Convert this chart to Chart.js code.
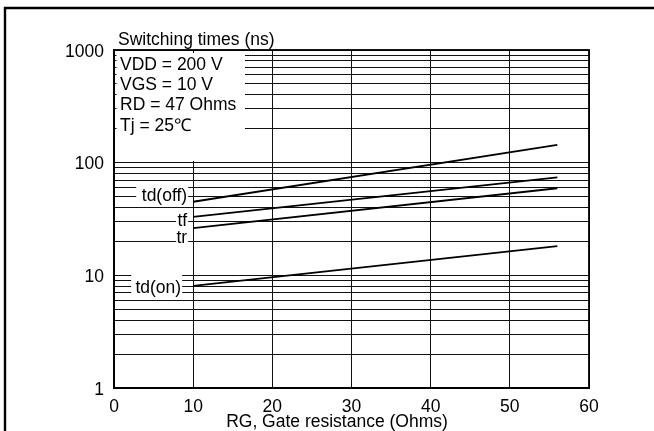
<!DOCTYPE html>
<html>
<head>
<meta charset="UTF-8">
<title>Switching times vs gate resistance</title>
<script src="https://cdn.jsdelivr.net/npm/chart.js@4.4.1/dist/chart.umd.min.js"></script>
<style>
    html, body { margin: 0; padding: 0; background: #fff; }
    #wrap { width: 654px; height: 431px; }
</style>
</head>
<body>
<div id="wrap"><canvas id="chart" width="654" height="431"></canvas></div>
<script>
    // values
    const rgOhms = [10, 56];
    const tdOff = [45, 144];
    const tFall = [33, 74];
    const tRise = [26.2, 59.3];
    const tdOn = [8.05, 18.2];

    const xTicks = [0, 10, 20, 30, 40, 50, 60];
    const yDecades = [1, 10, 100, 1000];
    const conditions = ['VDD = 200 V', 'VGS = 10 V', 'RD = 47 Ohms', 'Tj = 25\u2103'];
    const yTitle = 'Switching times (ns)';
    const xTitle = 'RG, Gate resistance (Ohms)';

    const FONT = '"Liberation Sans", Arial, sans-serif';
    const SIZE = 17.5;

    // every 1..9 step of each decade gets a grid line
    const yGrid = [];
    for (let k = 0; k < 3; k++) {
        for (let m = 1; m < 10; m++) yGrid.push(m * Math.pow(10, k));
    }
    yGrid.push(1000);

    function series(vals) {
        return rgOhms.map((x, i) => ({ x: x, y: vals[i] }));
    }

    function lineSet(name, vals) {
        return {
            label: name,
            data: series(vals),
            borderColor: '#000',
            borderWidth: 1.8,
            pointRadius: 0,
            fill: false,
            tension: 0
        };
    }

    function label(ctx, text, x, y, align, box) {
        ctx.fillStyle = '#fff';
        if (box) ctx.fillRect(box[0], box[1], box[2], box[3]);
        ctx.fillStyle = '#000';
        ctx.textAlign = align;
        ctx.textBaseline = 'middle';
        ctx.fillText(text, x, y);
    }

    const notes = {
        id: 'notes',
        beforeDatasetsDraw(chart) {
            const { ctx, chartArea: a, scales } = chart;
            const xs = scales.x, ys = scales.y;
            const x10 = xs.getPixelForValue(10);
            ctx.save();
            ctx.font = SIZE + 'px ' + FONT;

            // conditions block
            ctx.fillStyle = '#fff';
            ctx.fillRect(a.left + 2.5, a.top + 3, 128.5, 108);
            conditions.forEach((t, i) => {
                label(ctx, t, a.left + 6, a.top + 15 + i * 20.3, 'left');
            });

            // curve names
            let y = ys.getPixelForValue(50);
            label(ctx, 'td(off)', x10 - 6, y, 'right', [x10 - 57, y - 13, 52, 20]);
            y = ys.getPixelForValue(30);
            label(ctx, 'tf', x10 - 6, y, 'right', [x10 - 17, y - 9, 12, 33]);
            y = ys.getPixelForValue(21.5);
            label(ctx, 'tr', x10 - 6, y, 'right');
            y = ys.getPixelForValue(7.7);
            label(ctx, 'td(on)', x10 - 12, y, 'right', [x10 - 62, y - 15, 51, 24]);

            // axis titles
            label(ctx, yTitle, a.left + 4, a.top - 10, 'left');
            label(ctx, xTitle, a.left + 223, a.bottom + 34, 'center');
            ctx.restore();
        },
        afterDraw(chart) {
            const { ctx, chartArea: a } = chart;
            ctx.save();
            ctx.strokeStyle = '#000';
            ctx.lineWidth = 1.8;
            ctx.strokeRect(a.left, a.top, a.right - a.left, a.bottom - a.top);
            // outer frame of the page
            ctx.lineWidth = 2.4;
            ctx.beginPath();
            ctx.moveTo(5, 431);
            ctx.lineTo(5, 8);
            ctx.lineTo(654, 8);
            ctx.stroke();
            ctx.restore();
        }
    };

    const ctx = document.getElementById('chart').getContext('2d');
    new Chart(ctx, {
        type: 'line',
        data: {
            datasets: [
                lineSet('td(off)', tdOff),
                lineSet('tf', tFall),
                lineSet('tr', tRise),
                lineSet('td(on)', tdOn)
            ]
        },
        options: {
            responsive: false,
            animation: false,
            layout: { padding: { left: 0, right: 65, top: 50, bottom: 0 } },
            plugins: {
                legend: { display: false },
                tooltip: { enabled: false }
            },
            scales: {
                x: {
                    type: 'linear',
                    min: 0,
                    max: 60,
                    afterFit: (s) => { s.height = 43; },
                    afterBuildTicks: (s) => { s.ticks = xTicks.map(v => ({ value: v })); },
                    grid: { color: '#111', lineWidth: 1, drawTicks: false },
                    border: { color: '#000', width: 1.8 },
                    ticks: {
                        color: '#000',
                        padding: 9,
                        maxRotation: 0,
                        font: { family: FONT, size: SIZE }
                    }
                },
                y: {
                    type: 'logarithmic',
                    min: 1,
                    max: 1000,
                    afterFit: (s) => { s.width = 114; },
                    afterBuildTicks: (s) => { s.ticks = yGrid.map(v => ({ value: v })); },
                    grid: { color: '#111', lineWidth: 1, drawTicks: false },
                    border: { color: '#000', width: 1.8 },
                    ticks: {
                        color: '#000',
                        padding: 10,
                        labelOffset: 2,
                        autoSkip: false,
                        font: { family: FONT, size: SIZE },
                        callback: (v) => yDecades.includes(v) ? String(v) : ''
                    }
                }
            }
        },
        plugins: [notes]
    });
</script>
</body>
</html>
